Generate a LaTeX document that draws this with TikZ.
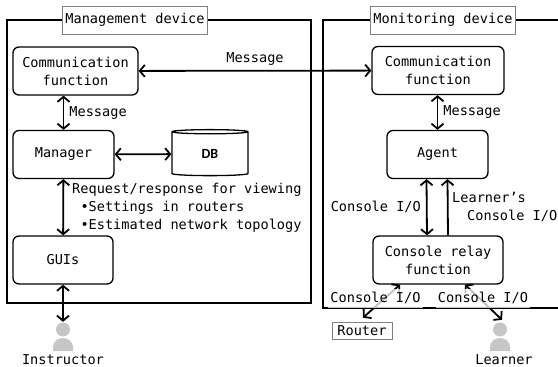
\documentclass[tikz,border=0pt]{standalone}
\usepackage{fontspec}
\setmonofont{DejaVu Sans Mono}
\newfontfamily\dbfont{Carlito}
\usetikzlibrary{arrows.meta,shapes.geometric}

\begin{document}
\begin{tikzpicture}[x=1pt,y=-1pt,
    font=\ttfamily\fontsize{13.6}{18}\selectfont,
    >={Straight Barb[length=5pt,width=12pt]},
    every node/.style={inner sep=0pt},
    dev/.style={draw,line width=1.3pt},
    devtitle/.style={draw=gray,fill=white,line width=0.6pt,inner xsep=3pt,minimum height=28pt},
    func/.style={draw,rounded corners=6pt,line width=1.3pt,align=center,minimum height=48pt},
    link/.style={<->,line width=1.8pt},
    iolabel/.style={fill=white,fill opacity=0.75,text opacity=1,inner xsep=2pt,minimum height=19pt},
    person/.style={minimum width=20pt,minimum height=29pt,path picture={
      \fill[gray!45] ([yshift=-7.5pt]path picture bounding box.north) circle (7pt);
      \fill[gray!45] (path picture bounding box.south west) -- ++(0pt,4pt)
        arc[start angle=180,end angle=0,x radius=10pt,y radius=9pt]
        -- (path picture bounding box.south east) -- cycle;}}]
  \clip (0,0) rectangle (558,367);
  \node[dev,minimum width=304pt,minimum height=283pt] (mgmt) at (159,161.5) {};
  \node[dev,minimum width=250pt,minimum height=288pt] (mon) at (448,164) {};
  \node[devtitle] (mgmttitle) at (135,20) {Management device};
  \node[devtitle] (montitle) at (443,20) {Monitoring device};

  \node[func,minimum width=125pt] (commL) at (75.5,71) {Communication\\function};
  \node[func,minimum width=101pt] (manager) at (63.5,154.5) {Manager};
  \node[draw,cylinder,shape border rotate=90,aspect=0.25,line width=1.3pt,
    minimum width=76pt,minimum height=46pt,font=\dbfont\bfseries\fontsize{14}{16}\selectfont] (db) at (210,154) {DB};
  \node[func,minimum width=100pt] (gui) at (63,260) {GUIs};
  \node[person] (instructor) at (63,336.5) {};
  \node (instructorlabel) at (63,360) {Instructor};

  \node[func,minimum width=132pt] (commR) at (438,70.5) {Communication\\function};
  \node[func,minimum width=101pt] (agent) at (437.5,154.5) {Agent};
  \node[func,minimum width=130pt] (relay) at (438,260) {Console relay\\function};
  \node[draw=gray,line width=0.6pt,minimum width=60pt,minimum height=17pt] (router) at (362,330.5) {Router};
  \node[person] (learner) at (500,336.5) {};
  \node (learnerlabel) at (504,360) {Learner};

  \draw[link] (commL) -- node[above=4pt] {Message} (commR);
  \draw[link] (manager.north) -- node[right=5pt] {Message} (manager.north |- commL.south);
  \draw[link] (manager) -- (db);
  \draw[link] (manager) -- (gui);
  \draw[link] (gui) -- (instructor.north);
  \node[anchor=west,align=left] (viewing) at (72,208)
    {Request/response for viewing\\\hspace*{8.3pt}•Settings in routers\\\hspace*{8.3pt}•Estimated network topology};

  \draw[link] (commR.south -| agent) -- node[right=5pt] {Message} (agent);
  \draw[link] ([xshift=-11pt]agent.south) -- node[left=5pt] {Console I/O} ([xshift=-11pt]relay.north);
  \draw[->,line width=1.8pt] ([xshift=10pt]relay.north) -- ([xshift=10pt]agent.south);
  \node[anchor=west,align=left] (learnerio) at (452,207) {Learner’s\\\hspace*{15pt}Console I/O};
  \draw[link] ([xshift=-38pt]relay.south) -- ([xshift=1pt,yshift=4pt]router.north);
  \draw[link] ([xshift=27pt]relay.south) -- ([xshift=2pt,yshift=2pt]learner.north);
  \node[iolabel] (routerio) at (375.5,298) {Console I/O};
  \node[iolabel] (learnerio2) at (483,298) {Console I/O};
\end{tikzpicture}
\end{document}
